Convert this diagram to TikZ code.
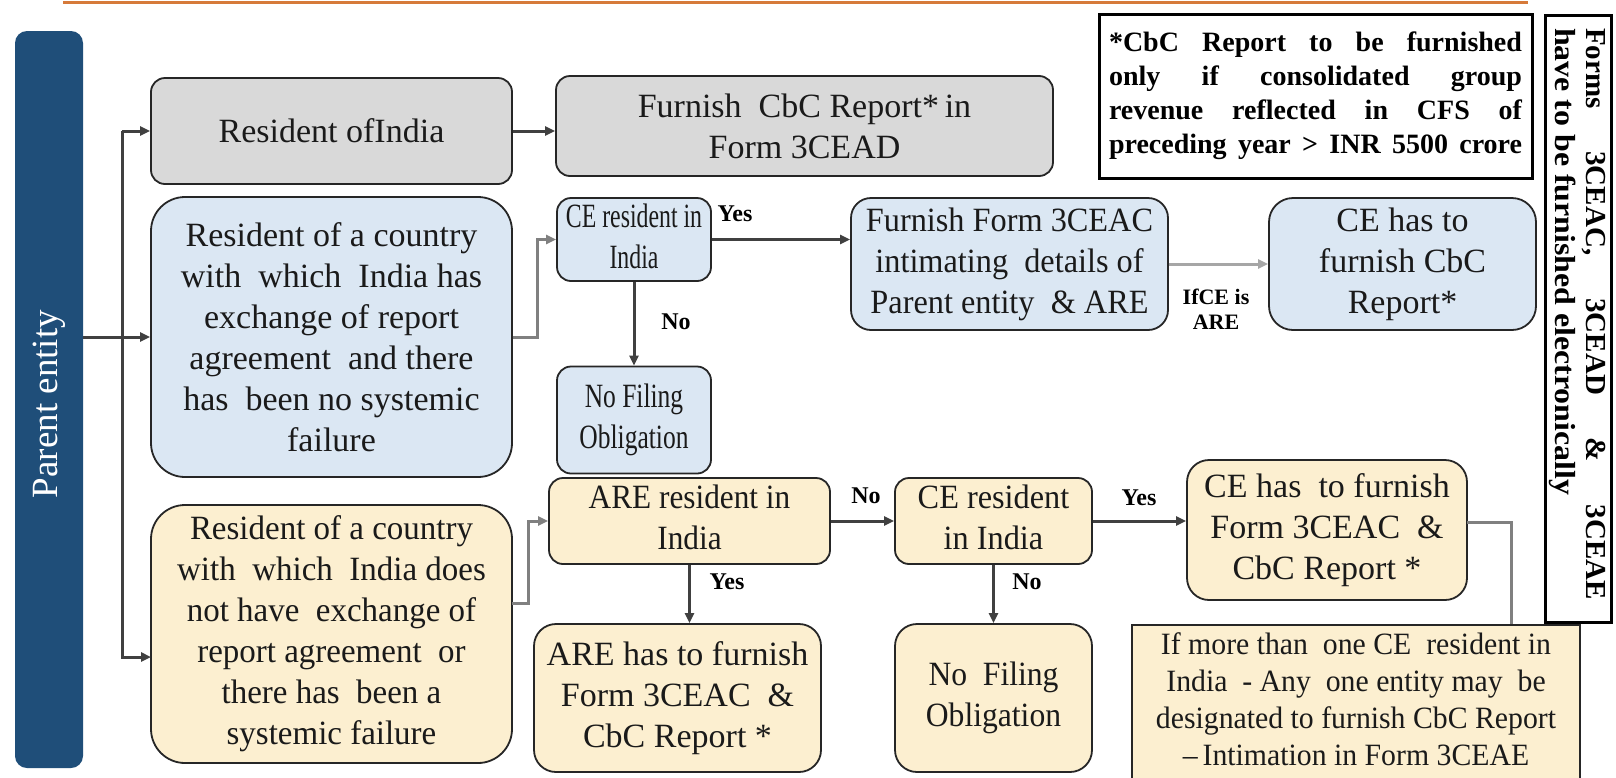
\documentclass[tikz,border=0pt]{standalone}
\usepackage{fontspec}
\usepackage{graphicx}
\setmainfont{Liberation Serif}
\usetikzlibrary{arrows.meta}
\definecolor{barblue}{HTML}{1F4E79}
\definecolor{boxgray}{HTML}{D9D9D9}
\definecolor{boxblue}{HTML}{DBE7F3}
\definecolor{boxyel}{HTML}{FCEFD0}
\definecolor{conncol}{HTML}{404040}
\definecolor{lightconn}{HTML}{A6A6A6}
\definecolor{midconn}{HTML}{808080}
\definecolor{orangeline}{HTML}{D67A3A}
\definecolor{txt}{HTML}{1A1A1A}
\newcommand\sqz[2]{\scalebox{#1}[1]{\begin{tabular}{@{}c@{}}#2\end{tabular}}}
\tikzset{
  bx/.style={draw=black!85, line width=1.8pt, rounded corners=14pt, align=center, inner sep=0pt, text=txt, font=\fontsize{34}{41}\selectfont},
  grayb/.style={bx, fill=boxgray},
  blueb/.style={bx, fill=boxblue},
  yelb/.style={bx, fill=boxyel},
  conn/.style={draw=conncol, line width=3pt, -{Triangle[length=10pt,width=9pt]}},
  plain/.style={draw=midconn, line width=3pt},
  lbl/.style={font=\fontsize{24}{25}\bfseries\selectfont, inner sep=0pt, align=center},
}
\begin{document}
\begin{tikzpicture}[x=1pt,y=-1pt]
\useasboundingbox (0,0) rectangle (1616,777);
\clip (0,0) rectangle (1616,777);
% top orange rule
\draw[orangeline, line width=3pt] (63,2) -- (1528,2);
% parent entity bar
\node[fill=barblue, rounded corners=12pt, minimum width=68pt, minimum height=737pt, inner sep=0pt] (pe) at (49,399.5) {};
\node[rotate=90, text=white, font=\fontsize{37}{42}\selectfont, inner sep=0pt] (pet) at (49,404) {Parent entity};
% boxes
\node[grayb, minimum width=361pt, minimum height=106pt] (b1) at (331.5,131) {Resident ofIndia};
\node[grayb, minimum width=497pt, minimum height=100pt] (b2) at (804.5,126) {Furnish \ CbC Report*\,in\\Form 3CEAD};
\node[blueb, rounded corners=34pt, minimum width=361pt, minimum height=280pt] (bA) at (331.5,337) {Resident of a country\\with \ which \ India has\\exchange of report\\agreement \ and there\\has \ been no systemic\\failure};
\node[blueb, minimum width=154pt, minimum height=83pt] (ce1) at (634,239.5) {\sqz{0.7}{CE resident in\\India}};
\node[blueb, rounded corners=20pt, minimum width=317pt, minimum height=132pt] (f3) at (1009.5,264) {\sqz{0.95}{Furnish Form 3CEAC\\intimating \ details of\\Parent entity \ \& ARE}};
\node[blueb, rounded corners=24pt, minimum width=267pt, minimum height=132pt] (ceh) at (1402.5,264) {CE has to\\furnish CbC\\Report*};
\node[blueb, minimum width=154pt, minimum height=107pt] (nf1) at (634,420) {\sqz{0.75}{No Filing\\Obligation}};
\node[yelb, rounded corners=34pt, minimum width=361pt, minimum height=258pt] (bB) at (331.5,634) {\sqz{0.97}{Resident of a country\\with \ which \ India does\\not have \ exchange of\\report agreement \ or\\there has \ been a\\systemic failure}};
\node[yelb, minimum width=281pt, minimum height=86pt] (are) at (689.5,521) {\sqz{0.92}{ARE resident in\\India}};
\node[yelb, minimum width=197pt, minimum height=86pt] (ce2) at (993.5,521) {\sqz{0.95}{CE resident\\in India}};
\node[yelb, rounded corners=22pt, minimum width=280pt, minimum height=140pt] (cef) at (1327,530) {CE has \ to furnish\\Form 3CEAC \ \&\\CbC Report *};
\node[yelb, rounded corners=22pt, minimum width=287pt, minimum height=148pt] (aref) at (677.5,698) {ARE has to furnish\\Form 3CEAC \ \&\\CbC Report *};
\node[yelb, rounded corners=22pt, minimum width=197pt, minimum height=148pt] (nf2) at (993.5,698) {\sqz{0.93}{No \ Filing\\Obligation}};
\node[yelb, rounded corners=0pt, minimum width=448pt, minimum height=156pt, font=\fontsize{31}{37}\selectfont] (ifm) at (1356,703) {\sqz{0.96}{If more than \ one CE \ resident in\\India \ - Any \ one entity may \ be\\designated to furnish CbC Report\\--\,Intimation in Form 3CEAE}};
% note box
\node[draw=black, line width=3pt, inner sep=0pt, minimum width=433pt, minimum height=164pt, text=black, font=\fontsize{28}{34}\bfseries\selectfont] (note) at (1315.5,96) {\parbox{413pt}{%
\makebox[\linewidth][s]{*CbC Report to be furnished}\\
\makebox[\linewidth][s]{only if consolidated group}\\
\makebox[\linewidth][s]{revenue reflected in CFS of}\\
\makebox[\linewidth][s]{preceding year > INR 5500 crore}}};
% vertical box
\node[draw=black, line width=3pt, inner sep=0pt, minimum width=66pt, minimum height=607pt] (vb) at (1578,318.5) {};
\node[rotate=-90, inner sep=0pt, text=black, font=\fontsize{29}{31}\bfseries\selectfont] (vbt) at (1577,314) {\parbox{572pt}{%
\makebox[\linewidth][s]{Forms 3CEAC, 3CEAD \& 3CEAE}\\
\scalebox{1.1}[1]{have to be furnished electronically}}};
% labels
\node[lbl] (lyes1) at (735,214) {Yes};
\node[lbl] (lno1) at (676,322) {No};
\node[lbl, font=\fontsize{22}{25}\bfseries\selectfont] (lif) at (1216,309) {IfCE is\\ARE};
\node[lbl] (lno2) at (866,496) {No};
\node[lbl] (lyes2) at (1139,498) {Yes};
\node[lbl] (lyes3) at (727,582) {Yes};
\node[lbl] (lno3) at (1027,582) {No};
% junction coordinates
\coordinate (trunk) at (122,0);
\coordinate (bBin) at (151,657);
\coordinate (jA) at (537,0);
\coordinate (bBout) at (512,603);
\coordinate (jB) at (528,0);
\coordinate (jC) at (1511,0);
\coordinate (cefout) at (1467,522);
% connectors
\draw[conn] (pe.east |- bA.west) -- (bA.west);
\draw[conn] (b1.west -| trunk) -- (b1.west);
\draw[conn] (b1.west -| trunk) -- (bBin -| trunk) -- (bBin);
\draw[conn] (b1.east) -- (b1.east -| b2.west);
\draw[conn, draw=midconn] (bA.east) -- (bA.east -| jA) |- (ce1.west);
\draw[conn] (ce1.east) -- (ce1.east -| f3.west);
\draw[conn, draw=lightconn] (f3.east) -- (ceh.west);
\draw[conn] (ce1.south) -- (nf1.north);
\draw[conn, draw=midconn] (bBout) -- (bBout -| jB) |- (are.west);
\draw[conn] (are.east) -- (ce2.west);
\draw[conn] (ce2.east) -- (ce2.east -| cef.west);
\draw[conn] (are.south) -- (are.south |- aref.north);
\draw[conn] (ce2.south) -- (nf2.north);
\draw[plain] (cefout) -| (jC |- ifm.north);
\end{tikzpicture}
\end{document}
